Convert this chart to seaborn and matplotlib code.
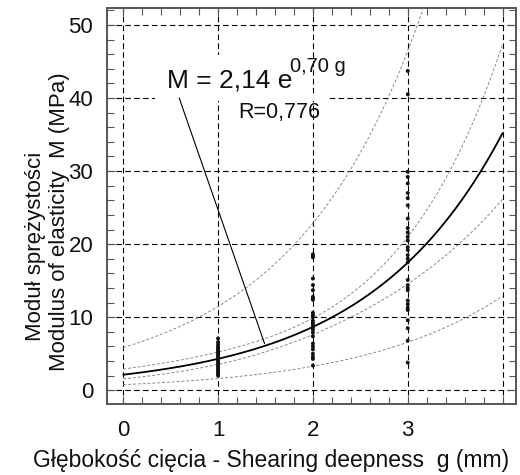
import numpy as np
import pandas as pd
import seaborn as sns
import matplotlib.pyplot as plt
from matplotlib.patches import Rectangle
from matplotlib.ticker import MultipleLocator

# measured points (g in mm, M in MPa)
m_g1 = [7.1, 6.6, 6.3, 6.0, 5.8, 5.6, 5.4, 5.2, 5.0, 4.8, 4.6, 4.4, 4.2, 4.0,
        3.8, 3.6, 3.4, 3.2, 3.0, 2.8, 2.6, 2.4, 2.2, 2.0]
m_g2 = [18.6, 18.4, 18.2, 15.3, 14.4, 13.7, 12.8, 12.6, 12.4, 10.6, 10.3, 10.0,
        9.5, 9.2, 8.9, 8.6, 8.3, 7.9, 7.4, 6.4, 6.0, 5.6, 5.0, 4.6, 4.3, 3.4]
m_g3 = [43.7, 40.5, 29.9, 29.2, 28.3, 27.0, 26.3, 25.3, 23.5, 22.2, 21.6, 21.0,
        20.5, 19.6, 19.2, 18.5, 18.0, 17.5, 15.1, 14.4, 14.0, 13.7, 12.3, 11.8,
        11.3, 11.0, 9.6, 8.5, 6.8, 3.8]

# fitted curve M = a * exp(b g) and its bands (log units)
fit_a, fit_b = 2.14, 0.70
g_mean = 2.05
ts = 0.96        # t * residual sd
n_eff = 55
sxx = 49.0

x_ticks = [0, 1, 2, 3]
y_ticks = [0, 10, 20, 30, 40, 50]

df = pd.DataFrame({
    "g": [1] * len(m_g1) + [2] * len(m_g2) + [3] * len(m_g3),
    "M": m_g1 + m_g2 + m_g3,
})

sns.set_theme(style="ticks")
plt.rcParams["font.family"] = ["Liberation Sans", "DejaVu Sans"]

fig = plt.figure(figsize=(5.2, 4.75), dpi=100)
ax = fig.add_axes([0.206, 0.149, 0.786, 0.834])

g = np.linspace(0, 4, 300)
fit = fit_a * np.exp(fit_b * g)
h_conf = ts * np.sqrt(1 / n_eff + (g - g_mean) ** 2 / sxx)
h_pred = ts * np.sqrt(1 + 1 / n_eff + (g - g_mean) ** 2 / sxx)

band_style = dict(color="#8a8a8a", lw=0.7, ls=(0, (3, 2)), zorder=3)
for h in (h_conf, h_pred):
    ax.plot(g, fit * np.exp(h), **band_style)
    ax.plot(g, fit * np.exp(-h), **band_style)
ax.plot(g, fit, color="black", lw=1.3, zorder=4)

sns.scatterplot(data=df, x="g", y="M", ax=ax, color="#111111", s=8,
                marker="o", edgecolor="none", zorder=5, legend=False)

ax.set_xlim(-0.17, 4.14)
ax.set_ylim(-1.9, 52.3)
ax.set_xticks(x_ticks + [4])
ax.set_xticklabels([str(t) for t in x_ticks] + [""])
ax.set_yticks(y_ticks)
ax.xaxis.set_minor_locator(MultipleLocator(0.2))
ax.yaxis.set_minor_locator(MultipleLocator(2))
ax.grid(True, which="major", color="black", ls=(0, (5, 3)), lw=0.8)
ax.set_axisbelow(True)
ax.tick_params(which="both", direction="in", top=True, right=True,
               color="#555555", labelsize=16, labelcolor="#111111")
ax.tick_params(which="major", length=6, width=0.8)
ax.tick_params(which="minor", length=5, width=0.8)
ax.tick_params(axis="x", pad=11)
ax.tick_params(axis="y", pad=10)
for s in ax.spines.values():
    s.set_color("#555555")
    s.set_linewidth(1.4)

ax.set_xlabel("")
ax.set_ylabel("")
fig.text(0.521, 0.017, "Głębokość cięcia - Shearing deepness  g (mm)",
         fontsize=16.5, ha="center", va="baseline", color="#111111")
fig.text(0.069, 0.482, "Moduł sprężystości", rotation=90, fontsize=16,
         ha="center", va="center", color="#111111")
fig.text(0.114, 0.533, "Modulus of elasticity  M (MPa)", rotation=90,
         fontsize=16, ha="center", va="center", color="#111111")

# white label background over the grid
ax.add_patch(Rectangle((0.34, 39.6), 1.61, 6.3, facecolor="white",
                       edgecolor="none", zorder=2))
ax.add_patch(Rectangle((1.95, 39.6), 0.20, 0.8, facecolor="white",
                       edgecolor="none", zorder=2))
ax.text(0.46, 41.5, "M = 2,14 e", fontsize=19, va="baseline", color="#111111",
        zorder=6)
ax.text(1.76, 43.6, "0,70 g", fontsize=14.5, va="baseline", color="#111111",
        zorder=6)
ax.text(1.21, 37.3, "R=0,776", fontsize=15.5, va="baseline", color="#111111",
        zorder=6)
ax.plot([0.59, 1.49], [40.0, 6.4], color="black", lw=0.8, zorder=6)

fig.savefig("out.png", dpi=100)
